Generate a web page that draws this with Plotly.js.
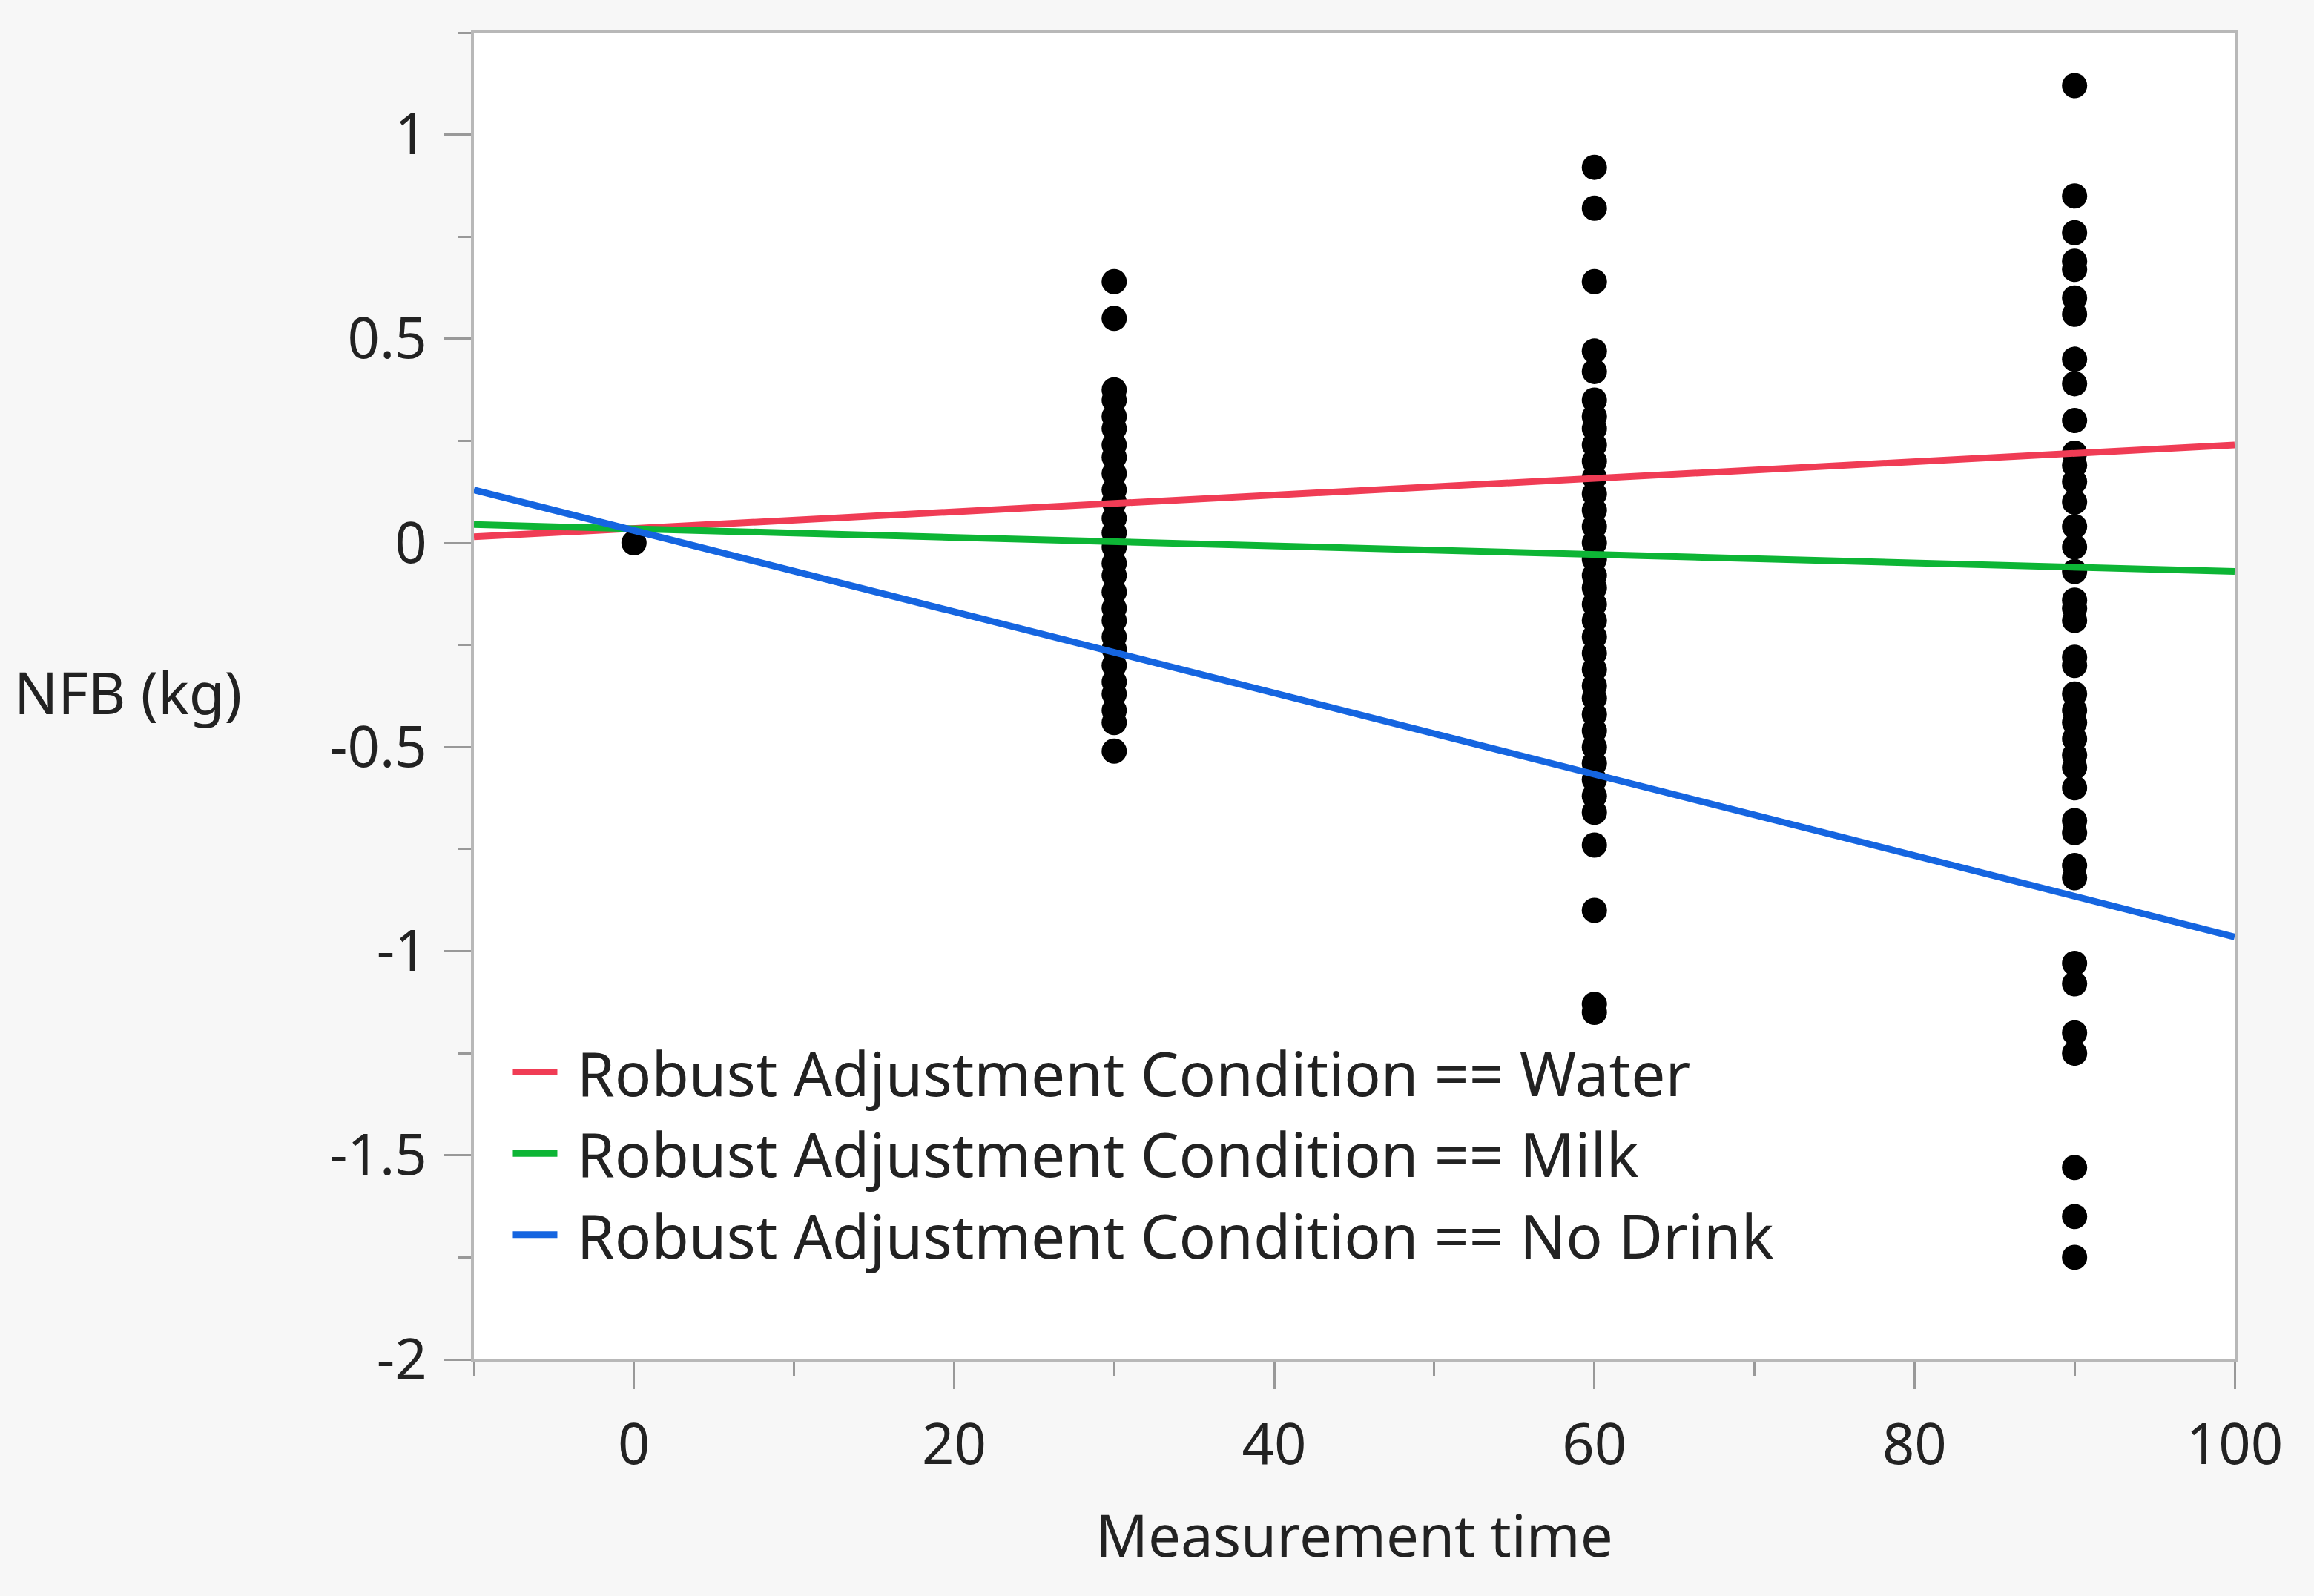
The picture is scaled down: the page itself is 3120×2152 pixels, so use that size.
<!DOCTYPE html>
<html><head><meta charset="utf-8">
<script src="https://cdn.plot.ly/plotly-3.0.1.min.js"></script>
<style>html,body{margin:0;padding:0;background:#f7f7f7;}</style>
</head><body>
<div id="graph" style="width:3120px;height:2152px;"></div>
<script>
// Observed points per measurement time
const times_obs = [0, 30, 60, 90];
const nfb_t0 = [0];
const nfb_t30 = [0.64, 0.55, 0.375, 0.35, 0.31, 0.28, 0.24, 0.21, 0.17, 0.13, 0.1, 0.06, 0.025, -0.01, -0.05, -0.08, -0.12, -0.16, -0.19, -0.23, -0.26, -0.3, -0.34, -0.37, -0.41, -0.44, -0.51];
const nfb_t60 = [0.92, 0.82, 0.64, 0.47, 0.42, 0.35, 0.31, 0.28, 0.24, 0.2, 0.16, 0.12, 0.08, 0.04, 0.0, -0.04, -0.08, -0.11, -0.15, -0.19, -0.23, -0.27, -0.31, -0.35, -0.38, -0.42, -0.46, -0.5, -0.54, -0.58, -0.62, -0.66, -0.74, -0.9, -1.13, -1.15];
const nfb_t90 = [1.12, 0.85, 0.76, 0.69, 0.67, 0.6, 0.56, 0.45, 0.39, 0.3, 0.22, 0.19, 0.15, 0.1, 0.04, -0.01, -0.07, -0.14, -0.16, -0.19, -0.28, -0.3, -0.37, -0.41, -0.44, -0.48, -0.52, -0.55, -0.6, -0.68, -0.71, -0.79, -0.82, -1.03, -1.08, -1.2, -1.25, -1.53, -1.65, -1.75];

// Fitted lines (end points)
const line_x = [-10, 100];
const water_y = [0.015, 0.24];
const milk_y = [0.045, -0.07];
const nodrink_y = [0.13, -0.965];
const line_names = ["Robust Adjustment Condition == Water", "Robust Adjustment Condition == Milk", "Robust Adjustment Condition == No Drink"];

// Y tick labels (hyphen minus as in the original)
const y_tickvals = [-2, -1.5, -1, -0.5, 0, 0.5, 1];
const y_ticktext = ["-2", "-1.5", "-1", "-0.5", "0", "0.5", "1"];

const pts_x = [], pts_y = [];
[nfb_t0, nfb_t30, nfb_t60, nfb_t90].forEach((arr, i) => arr.forEach(v => {pts_x.push(times_obs[i]); pts_y.push(v);}));

const font = "Noto Sans, Open Sans, sans-serif";
const traces = [
  {x: pts_x, y: pts_y, mode: "markers", marker: {color: "#000", size: 34}, showlegend: false, hoverinfo: "skip"},
  {x: line_x, y: water_y, mode: "lines", name: " " + line_names[0], line: {color: "#f03c55", width: 9}},
  {x: line_x, y: milk_y, mode: "lines", name: " " + line_names[1], line: {color: "#0db535", width: 9}},
  {x: line_x, y: nodrink_y, mode: "lines", name: " " + line_names[2], line: {color: "#1565e0", width: 9}}];

const axisCommon = {showline: true, linecolor: "#b8b8b8", linewidth: 4, mirror: true, showgrid: false, zeroline: false,
  ticks: "outside", ticklen: 36, tickwidth: 3, tickcolor: "#999", tickfont: {size: 76, color: "#222", family: font}};

const layout = {
  paper_bgcolor: "#f7f7f7", plot_bgcolor: "#fff", font: {family: font},
  margin: {l: 639, r: 107, t: 44, b: 319},
  xaxis: Object.assign({}, axisCommon, {range: [-10, 100], dtick: 20, tick0: 0, ticklabelstandoff: 10,
    minor: {dtick: 10, ticks: "outside", ticklen: 18, tickcolor: "#999", tickwidth: 3},
    title: {text: "Measurement time", font: {size: 78, color: "#222"}, standoff: 50}}),
  yaxis: Object.assign({}, axisCommon, {range: [-2, 1.25], tickvals: y_tickvals, ticktext: y_ticktext, ticklabelstandoff: 8,
    minor: {dtick: 0.25, ticks: "outside", ticklen: 18, tickcolor: "#999", tickwidth: 3}}),
  annotations: [{text: "NFB (kg)", xref: "paper", yref: "paper", x: -0.262, y: 0.503, xanchor: "left", yanchor: "middle",
    showarrow: false, font: {size: 78, color: "#222"}}],
  legend: {x: 0.02, y: 0.25, xanchor: "left", yanchor: "top", bgcolor: "rgba(0,0,0,0)",
    font: {size: 82, color: "#222"}, tracegroupgap: 0, itemwidth: 60}
};
Plotly.newPlot("graph", traces, layout, {displayModeBar: false, staticPlot: true});
</script>
</body></html>
